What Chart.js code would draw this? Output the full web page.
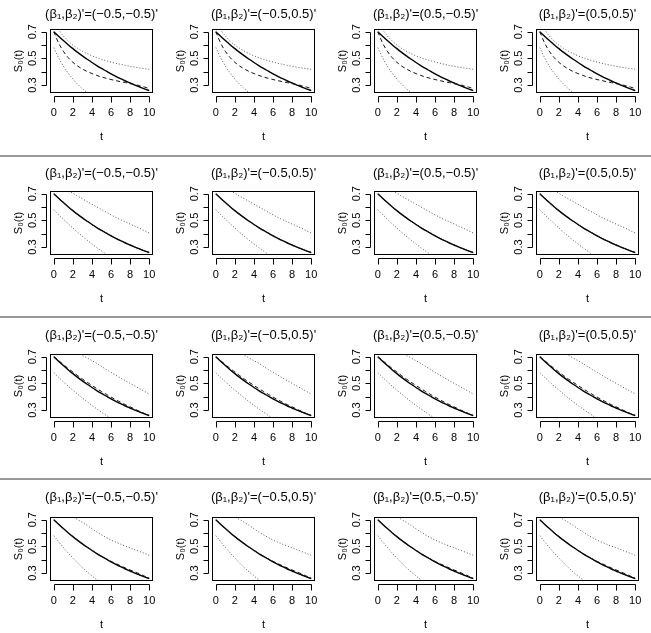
<!DOCTYPE html>
<html>
<head>
<meta charset="utf-8">
<script src="https://cdn.jsdelivr.net/npm/chart.js@4"></script>
<style>
body { margin: 0; width: 651px; height: 633px; overflow: hidden; background: #fff; position: relative; }
canvas { position: absolute; }
.sep { position: absolute; left: 0; width: 651px; height: 2px; background: #999; }
</style>
</head>
<body>
<script>
// time grid shared by every panel
const tValues = [0, 0.5, 1, 1.5, 2, 2.5, 3, 3.5, 4, 4.5, 5, 5.5, 6, 6.5, 7, 7.5, 8, 8.5, 9, 9.5, 10];

// true baseline survival (solid line), same in all panels
const trueCurve = [0.700, 0.666, 0.633, 0.602, 0.573, 0.545, 0.518, 0.493, 0.469, 0.446, 0.424,
                   0.404, 0.384, 0.365, 0.347, 0.330, 0.315, 0.299, 0.285, 0.271, 0.258];

// estimate (dashed) per row
const estRow1 = [0.700, 0.615, 0.553, 0.506, 0.470, 0.442, 0.420, 0.401, 0.386, 0.372, 0.360,
                 0.350, 0.341, 0.333, 0.325, 0.318, 0.311, 0.303, 0.295, 0.285, 0.273];
const estRow2 = [0.700, 0.665, 0.632, 0.601, 0.572, 0.544, 0.518, 0.493, 0.469, 0.446, 0.425,
                 0.404, 0.385, 0.366, 0.348, 0.331, 0.315, 0.300, 0.285, 0.271, 0.258];
const estRow3 = [0.700, 0.671, 0.641, 0.612, 0.585, 0.558, 0.532, 0.508, 0.484, 0.461, 0.439,
                 0.418, 0.397, 0.377, 0.358, 0.340, 0.324, 0.306, 0.290, 0.274, 0.258];
const estRow4 = [0.700, 0.666, 0.633, 0.602, 0.573, 0.545, 0.519, 0.494, 0.470, 0.448, 0.426,
                 0.406, 0.387, 0.371, 0.354, 0.338, 0.323, 0.308, 0.293, 0.277, 0.260];

// upper pointwise band (dotted) per row
const upRow1 = [0.780, 0.715, 0.668, 0.630, 0.600, 0.575, 0.553, 0.535, 0.519, 0.505, 0.493,
                0.482, 0.472, 0.463, 0.455, 0.447, 0.440, 0.434, 0.428, 0.423, 0.418];
const upRow2 = [0.800, 0.778, 0.756, 0.726, 0.703, 0.682, 0.661, 0.641, 0.621, 0.601, 0.581,
                0.561, 0.541, 0.522, 0.505, 0.489, 0.472, 0.456, 0.440, 0.422, 0.405];
const upRow3 = [0.830, 0.810, 0.790, 0.770, 0.750, 0.730, 0.710, 0.690, 0.670, 0.650, 0.627,
                0.604, 0.582, 0.561, 0.540, 0.520, 0.500, 0.480, 0.460, 0.440, 0.420];
const upRow4 = [0.820, 0.795, 0.770, 0.746, 0.723, 0.701, 0.679, 0.656, 0.632, 0.608, 0.586,
                0.566, 0.547, 0.531, 0.516, 0.502, 0.489, 0.475, 0.461, 0.447, 0.433];

// lower pointwise band (dotted) per row
const lowRow1 = [0.580, 0.505, 0.442, 0.390, 0.345, 0.306, 0.272, 0.243, 0.218, 0.196, 0.177,
                 0.160, 0.146, 0.133, 0.122, 0.112, 0.103, 0.095, 0.088, 0.082, 0.076];
const lowRow2 = [0.580, 0.544, 0.509, 0.475, 0.442, 0.410, 0.380, 0.351, 0.323, 0.296, 0.270,
                 0.245, 0.222, 0.200, 0.180, 0.162, 0.146, 0.131, 0.118, 0.106, 0.095];
const lowRow3 = [0.580, 0.546, 0.512, 0.480, 0.449, 0.419, 0.390, 0.362, 0.335, 0.309, 0.284,
                 0.260, 0.237, 0.215, 0.195, 0.176, 0.158, 0.142, 0.127, 0.113, 0.100];
const lowRow4 = [0.580, 0.535, 0.492, 0.451, 0.412, 0.375, 0.340, 0.308, 0.278, 0.250, 0.224,
                 0.200, 0.178, 0.158, 0.140, 0.124, 0.110, 0.097, 0.086, 0.076, 0.067];

const panelTitles = ["(β₁,β₂)'=(−0.5,−0.5)'", "(β₁,β₂)'=(−0.5,0.5)'",
                     "(β₁,β₂)'=(0.5,−0.5)'", "(β₁,β₂)'=(0.5,0.5)'"];
const xTickValues = [0, 2, 4, 6, 8, 10];
const yTickValues = [0.3, 0.4, 0.5, 0.6, 0.7];
const yTickLabels = ['0.3', '', '0.5', '', '0.7'];

const estRows = [estRow1, estRow2, estRow3, estRow4];
const upRows = [upRow1, upRow2, upRow3, upRow4];
const lowRows = [lowRow1, lowRow2, lowRow3, lowRow4];

// layout (pixels)
const boxLeft = [50, 212, 374, 536];
const boxTop = [29, 191, 354, 517];
const titleY = [14, 173.5, 335, 497];
const sepY = [154.5, 315.5, 478];
const FONT = '"Liberation Sans", Arial, sans-serif';

sepY.forEach(y => {
    const d = document.createElement('div');
    d.className = 'sep';
    d.style.top = y + 'px';
    document.body.appendChild(d);
});

// R-like box, detached axes, rotated y labels and title
const rStyle = {
    id: 'rStyle',
    afterDraw(chart) {
        const { ctx, chartArea: a, scales: { x, y } } = chart;
        const o = chart.options.plugins.rStyle;
        ctx.save();
        ctx.strokeStyle = '#000';
        ctx.lineWidth = 1;
        ctx.setLineDash([]);
        ctx.strokeRect(a.left + 0.5, a.top + 0.5, a.right - a.left - 1, a.bottom - a.top - 1);

        ctx.beginPath();
        const ay = a.bottom + 3.5;
        ctx.moveTo(Math.round(x.getPixelForValue(xTickValues[0])) + 0.5, ay);
        ctx.lineTo(Math.round(x.getPixelForValue(xTickValues[xTickValues.length - 1])) + 0.5, ay);
        xTickValues.forEach(v => {
            const px = Math.round(x.getPixelForValue(v)) + 0.5;
            ctx.moveTo(px, ay);
            ctx.lineTo(px, ay + 6);
        });
        const ax = a.left - 3.5;
        ctx.moveTo(ax, Math.round(y.getPixelForValue(yTickValues[0])) + 0.5);
        ctx.lineTo(ax, Math.round(y.getPixelForValue(yTickValues[yTickValues.length - 1])) + 0.5);
        yTickValues.forEach(v => {
            const py = Math.round(y.getPixelForValue(v)) + 0.5;
            ctx.moveTo(ax, py);
            ctx.lineTo(ax - 5, py);
        });
        ctx.stroke();

        ctx.fillStyle = '#000';
        ctx.font = '11px ' + FONT;
        ctx.textAlign = 'center';
        ctx.textBaseline = 'middle';
        yTickValues.forEach((v, i) => {
            if (!yTickLabels[i]) return;
            ctx.save();
            ctx.translate(a.left - 17, y.getPixelForValue(v));
            ctx.rotate(-Math.PI / 2);
            ctx.fillText(yTickLabels[i], 0, 0);
            ctx.restore();
        });

        ctx.font = '13px ' + FONT;
        ctx.fillText(o.title, (a.left + a.right) / 2, o.titleY);
        ctx.restore();
    }
};

const noPad = s => { s.paddingLeft = 0; s.paddingRight = 0; s.paddingTop = 0; s.paddingBottom = 0; };

for (let r = 0; r < 4; r++) {
    for (let c = 0; c < 4; c++) {
        const cv = document.createElement('canvas');
        cv.width = 162;
        cv.height = 160;
        cv.style.left = (boxLeft[c] - 50) + 'px';
        cv.style.top = (boxTop[r] - 29) + 'px';
        document.body.appendChild(cv);

        const pts = arr => tValues.map((t, i) => ({ x: t, y: arr[i] }));
        new Chart(cv.getContext('2d'), {
            type: 'line',
            data: {
                datasets: [
                    { data: pts(lowRows[r]), borderColor: '#555', borderWidth: 1, borderDash: [1, 2] },
                    { data: pts(upRows[r]), borderColor: '#555', borderWidth: 1, borderDash: [1, 2] },
                    { data: pts(estRows[r]), borderColor: '#111', borderWidth: 1, borderDash: [4, 3] },
                    { data: pts(trueCurve), borderColor: '#000', borderWidth: 1.4 }
                ]
            },
            options: {
                responsive: false,
                animation: false,
                devicePixelRatio: 1,
                layout: { padding: { left: 0, right: 9, top: 29, bottom: 0 } },
                elements: {
                    point: { radius: 0 },
                    line: { cubicInterpolationMode: 'monotone', fill: false }
                },
                plugins: {
                    legend: { display: false },
                    tooltip: { enabled: false },
                    rStyle: { title: panelTitles[c], titleY: titleY[r] - (boxTop[r] - 29) }
                },
                scales: {
                    x: {
                        type: 'linear',
                        min: -0.4,
                        max: 10.4,
                        afterBuildTicks: s => { s.ticks = xTickValues.map(v => ({ value: v })); },
                        afterFit: s => { s.height = 67; noPad(s); },
                        grid: { display: false, drawTicks: false },
                        border: { display: false },
                        ticks: { color: '#000', font: { size: 11, family: FONT }, padding: 13, maxRotation: 0 },
                        title: { display: true, text: 't', color: '#000', font: { size: 11, family: FONT }, padding: { top: 0, bottom: 16 } }
                    },
                    y: {
                        type: 'linear',
                        min: 0.24,
                        max: 0.72,
                        afterFit: s => { s.width = 50; noPad(s); },
                        grid: { display: false, drawTicks: false },
                        border: { display: false },
                        ticks: { display: false },
                        title: { display: true, text: 'S₀(t)', color: '#000', font: { size: 11, family: FONT }, padding: { top: 12, bottom: 0 } }
                    }
                }
            },
            plugins: [rStyle]
        });
    }
}
</script>
</body>
</html>
